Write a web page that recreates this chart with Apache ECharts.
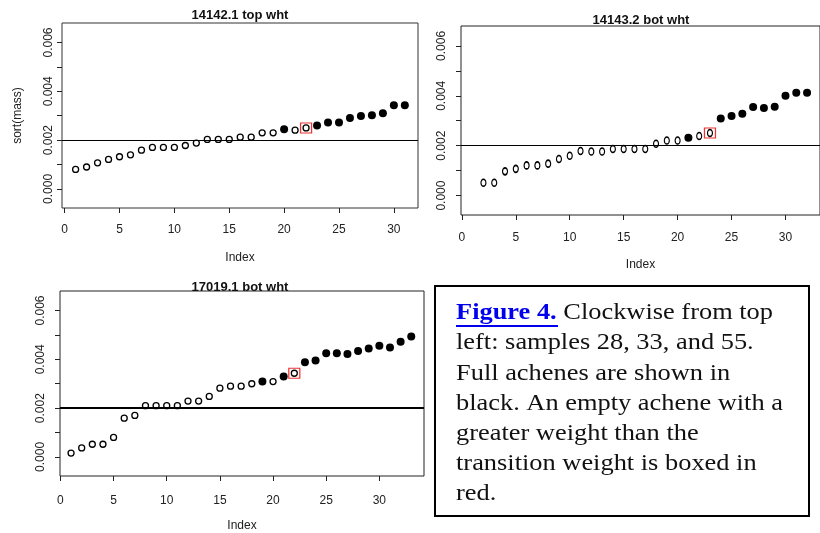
<!DOCTYPE html>
<html>
<head>
<meta charset="utf-8">
<script src="https://cdn.jsdelivr.net/npm/echarts@6/dist/echarts.min.js"></script>
<style>
html, body { margin: 0; padding: 0; background: #fff; }
#graph1 { width: 820px; height: 533px; }
</style>
</head>
<body>
<div id="graph1"></div>
<script>
// sample 28
var title28 = '14142.1 top wht';
var first28 = 1;
var mass28 = [0.00080, 0.00090, 0.00107, 0.00121, 0.00132, 0.00140, 0.00159, 0.00170, 0.00170, 0.00170,
    0.00178, 0.00188, 0.00203, 0.00203, 0.00203, 0.00212, 0.00212, 0.00230, 0.00230, 0.00245,
    0.00241, 0.00250, 0.00260, 0.00272, 0.00272, 0.00291, 0.00299, 0.00302, 0.00310, 0.00343, 0.00343];
var full28 = [20, 23, 24, 25, 26, 27, 28, 29, 30, 31];
var boxed28 = 22;

// sample 33
var title33 = '14143.2 bot wht';
var first33 = 2;
var mass33 = [0.00051, 0.00051, 0.00097, 0.00107, 0.00121, 0.00121, 0.00128, 0.00147, 0.00160, 0.00179,
    0.00177, 0.00177, 0.00187, 0.00187, 0.00187, 0.00187, 0.00208, 0.00221, 0.00221, 0.00232,
    0.00239, 0.00251, 0.00309, 0.00319, 0.00328, 0.00355, 0.00351, 0.00356, 0.00400, 0.00412, 0.00412];
var full33 = [21, 24, 25, 26, 27, 28, 29, 30, 31, 32];
var boxed33 = 23;

// sample 55
var title55 = '17019.1 bot wht';
var first55 = 1;
var mass55 = [0.00016, 0.00037, 0.00052, 0.00052, 0.00080, 0.00159, 0.00170, 0.00210, 0.00210, 0.00210,
    0.00210, 0.00229, 0.00229, 0.00248, 0.00282, 0.00290, 0.00290, 0.00300, 0.00309, 0.00309,
    0.00330, 0.00343, 0.00388, 0.00395, 0.00425, 0.00425, 0.00422, 0.00434, 0.00444, 0.00456,
    0.00449, 0.00472, 0.00494];
var full55 = [19, 21, 23, 24, 25, 26, 27, 28, 29, 30, 31, 32, 33];
var boxed55 = 22;

var transition = 0.002;
var xTicks = [0, 5, 10, 15, 20, 25, 30];
var yTicks = [0, 0.001, 0.002, 0.003, 0.004, 0.005, 0.006];
var yLabels = [0, 0.002, 0.004, 0.006];

var captionLines = [
    '{f|Figure 4.} Clockwise from top',
    'left: samples 28, 33, and 55.',
    'Full achenes are shown in',
    'black. An empty achene with a',
    'greater weight than the',
    'transition weight is boxed in',
    'red.'
];

var font = '"Liberation Sans", Arial, sans-serif';

function points(first, mass, full, wantFull) {
    var out = [];
    for (var i = 0; i < mass.length; i++) {
        var idx = first + i;
        var isFull = full.indexOf(idx) >= 0;
        if (isFull === wantFull) out.push([idx, mass[i]]);
    }
    return out;
}

function panelSeries(k, first, mass, full, boxed, lineW, openSize) {
    return [{
        type: 'scatter', xAxisIndex: k, yAxisIndex: k,
        symbol: 'circle', symbolSize: openSize,
        itemStyle: { color: '#fff', borderColor: '#000', borderWidth: 1.3, opacity: 1 },
        data: points(first, mass, full, false),
        markLine: {
            silent: true, symbol: 'none', animation: false, precision: 5,
            label: { show: false },
            lineStyle: { color: '#000', width: lineW, type: 'solid' },
            data: [{ yAxis: transition }]
        },
        z: 3
    }, {
        type: 'scatter', xAxisIndex: k, yAxisIndex: k,
        symbol: 'circle', symbolSize: 8,
        itemStyle: { color: '#000', opacity: 1 },
        data: points(first, mass, full, true),
        z: 3
    }, {
        type: 'scatter', xAxisIndex: k, yAxisIndex: k,
        symbol: 'rect', symbolSize: [11, 10],
        itemStyle: { color: 'rgba(0,0,0,0)', borderColor: '#ee3333', borderWidth: 1.2, opacity: 1 },
        data: [[boxed, mass[boxed - first]]],
        z: 4
    }];
}

function xAxis(k, min, max, labelMargin) {
    return {
        type: 'value', gridIndex: k, min: min, max: max,
        axisLine: { show: false, onZero: false },
        splitLine: { show: false },
        axisTick: { show: true, length: 5, customValues: xTicks, lineStyle: { color: '#222' } },
        axisLabel: { customValues: xTicks, margin: labelMargin, color: '#222', fontSize: 12, fontFamily: font },
        name: 'Index', nameLocation: 'middle', nameGap: 44,
        nameTextStyle: { color: '#222', fontSize: 12, fontFamily: font }
    };
}

function yAxis(k, labelMargin, name) {
    return {
        type: 'value', gridIndex: k, min: -0.00078, max: 0.0068,
        axisLine: { show: false, onZero: false },
        splitLine: { show: false },
        axisTick: { show: true, length: 5, customValues: yTicks, lineStyle: { color: '#222' } },
        axisLabel: {
            customValues: yLabels, rotate: 90, margin: labelMargin,
            color: '#222', fontSize: 12, fontFamily: font,
            formatter: function (v) { return v.toFixed(3); }
        },
        name: name, nameLocation: 'middle', nameGap: 38,
        nameTextStyle: { color: '#222', fontSize: 12, fontFamily: font }
    };
}

var graphics = [
    { type: 'text', x: 240, y: 15, style: { text: title28, font: 'bold 13px ' + font, fill: '#111', align: 'center', verticalAlign: 'middle' } },
    { type: 'text', x: 641, y: 20, style: { text: title33, font: 'bold 13px ' + font, fill: '#111', align: 'center', verticalAlign: 'middle' } },
    { type: 'text', x: 240, y: 287, style: { text: title55, font: 'bold 13px ' + font, fill: '#111', align: 'center', verticalAlign: 'middle' }, z: 0 },
    { type: 'rect', shape: { x: 435, y: 286, width: 374, height: 230 }, style: { fill: '#fff', stroke: '#000', lineWidth: 2 } },
    { type: 'line', shape: { x1: 456, y1: 326, x2: 558, y2: 326 }, style: { stroke: '#0000ee', lineWidth: 2 } }
];
for (var i = 0; i < captionLines.length; i++) {
    graphics.push({
        type: 'text', x: 456, y: 313 + i * 30.2, scaleX: 1.1,
        style: {
            text: captionLines[i], x: 0, y: 0,
            font: '24px "Liberation Serif", "Times New Roman", serif',
            fill: '#111', align: 'left', verticalAlign: 'middle',
            rich: { f: { fontWeight: 'bold', fill: '#0000ee', fontSize: 24, fontFamily: '"Liberation Serif", serif' } }
        }
    });
}

var option = {
    backgroundColor: '#fff',
    animation: false,
    grid: [
        { left: 62, top: 23, width: 356, height: 185, show: true, borderColor: '#333', borderWidth: 1, backgroundColor: 'transparent' },
        { left: 461, top: 26, width: 361, height: 189, show: true, borderColor: '#222', borderWidth: 1, backgroundColor: 'transparent' },
        { left: 60, top: 291, width: 364, height: 186, show: true, borderColor: '#222', borderWidth: 1, backgroundColor: 'transparent' }
    ],
    xAxis: [
        xAxis(0, -0.24, 32.2, 16),
        xAxis(1, -0.08, 33.2, 17),
        xAxis(2, -0.04, 34.2, 19)
    ],
    yAxis: [
        yAxis(0, 7, 'sort(mass)'),
        yAxis(1, 13, ''),
        yAxis(2, 13, '')
    ],
    graphic: graphics,
    series: [].concat(
        panelSeries(0, first28, mass28, full28, boxed28, 1.2, 6),
        panelSeries(1, first33, mass33, full33, boxed33, 1.2, [5, 7]),
        panelSeries(2, first55, mass55, full55, boxed55, 2, 6)
    )
};

var myChart = echarts.init(document.getElementById('graph1'));
myChart.setOption(option);
</script>
</body>
</html>
